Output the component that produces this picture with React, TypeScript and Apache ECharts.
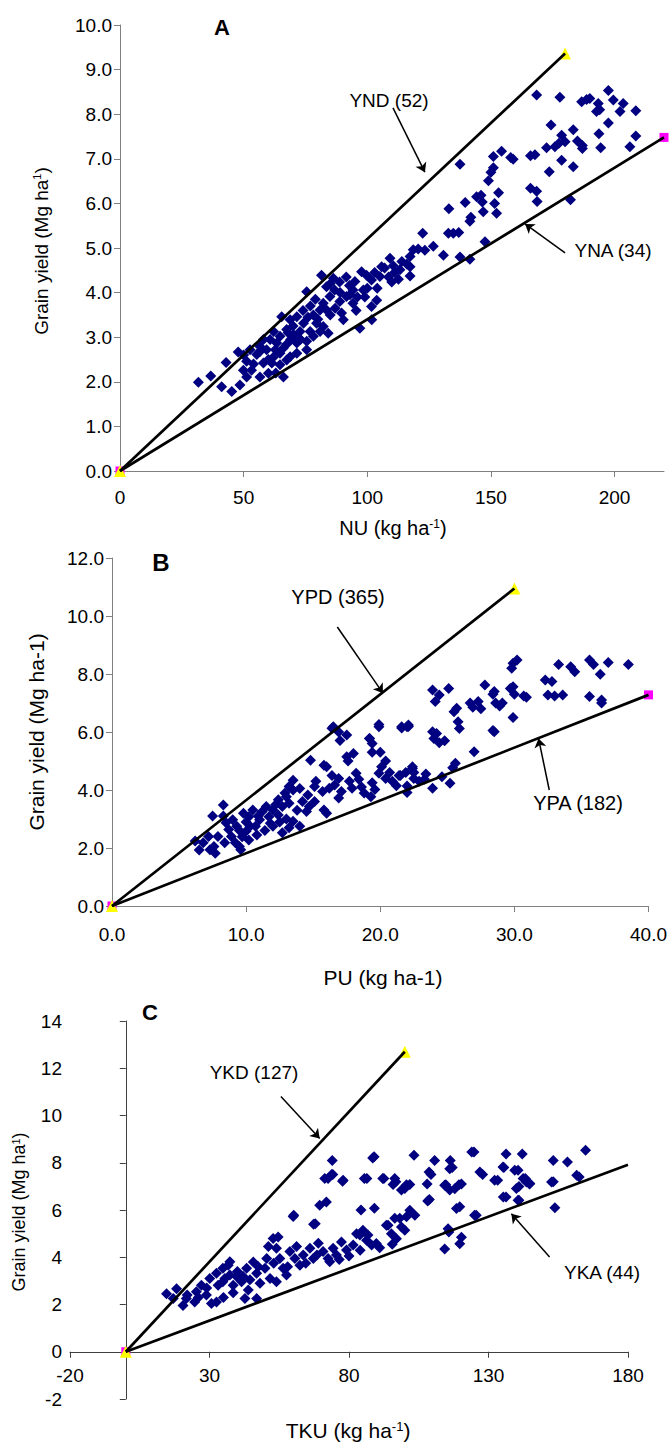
import React, { useEffect, useRef } from "react";
import * as echarts from "echarts";

const FONT = "'Liberation Sans', Arial, sans-serif";

// ---------- Panel A (NU) ----------
const pointsA: number[][] = [
  [31.7,1.99],[36.7,2.13],[42.9,2.43],[47.8,2.67],[41.1,1.89],[45.2,1.78],[48.5,1.93],
  [49.9,2.26],[51.2,2.11],[51.2,2.46],[52.6,2.72],[53.2,2.26],[55.3,2.61],[56.6,2.11],[56.6,2.79],[56.6,2.68],
  [58,2.42],[59.3,2.72],[60,2.19],[60.7,2.95],[61.4,2.42],[62.1,3.13],[62.8,2.72],[63.4,2.87],[64.7,2.64],
  [64.7,2.38],[64.7,3.02],[65.4,3.46],[66.1,2.11],[67.4,2.84],[67.4,2.49],[67.4,3.17],[68.8,2.56],[68.8,3.39],
  [70.1,3.06],[71.5,2.64],[71.5,2.87],[71.5,3.46],[72.8,3.13],[74.2,3.31],[75.5,2.91],[75.5,2.72],[75.5,4.02],
  [76.9,3.13],[78.2,3.5],[78.2,3.02],[79.5,3.31],[80.9,3.13],[80.9,3.61],[81.5,4.39],[82.2,3.24],[82.2,3.76],
  [83.5,3.61],[83.5,4.13],[84.2,3.09],[84.9,3.91],[86.3,4.32],[86.8,4.06],[88.8,4.24],[88.9,3.8],[89.6,3.54],
  [90.3,3.39],[91.5,4.35],[91.6,3.91],[92.8,4.16],[94.2,4.06],[94.2,3.76],[95.5,3.6],[97,3.2],[97.7,4.47],
  [98.4,4.06],[99.7,4.39],[101.7,4.28],[101.7,3.69],[101.8,3.39],[103.8,3.83],[105.1,4.36],[105.8,4.58],
  [108.6,4.35],[109.2,4.77],[109.9,4.24],[110.5,4.6],[112.6,4.3],[113.2,4.51],[116,4.64],[117.3,4.81],
  [117.3,4.58],[117.3,4.37],[118.6,4.96],[120.6,4.98],[122.4,5.33],[123.3,4.95],[126.7,5.04],[130.8,4.84],
  [132.8,5.33],[133,5.88],[134.8,5.33],[137,5.35],[137.5,4.8],[137.5,6.88],[139.6,6.02],[141.5,4.75],
  [141.5,5.6],[141.9,5.69],[144.2,6.15],[146,6.18],[146.5,6.03],[146.9,5.81],[147.6,5.14],[149,6.51],
  [150,6.7],[151,6.8],[151,7.05],[151.5,6.0],[152.3,5.78],[153.1,6.24],[154.3,7.17],[158,7.03],[159,6.99],
  [166,7.07],[166,6.34],[167.8,7.09],[168.5,6.27],[168.5,8.43],[168.7,6.04],[172.5,7.25],[173.6,6.71],
  [174.3,7.76],[175.9,7.27],[177.5,7.35],[177.9,8.38],[178.6,7.53],[178.6,6.97],[180,7.38],[182.2,6.08],
  [183.3,7.65],[183.3,6.82],[185,7.4],[186.7,8.28],[187,7.3],[187,7.23],[188.7,8.33],[190,8.35],[192.7,8.06],
  [193.4,8.24],[193.7,7.56],[194,8.1],[194.4,7.25],[197.5,8.53],[197.5,7.8],[199.5,8.32],[202.2,8.06],
  [203.5,8.24],[206.2,7.27],[208.6,8.08],[208.6,7.51],
  [58,2.95],[62,2.55],[66,2.75],[69,2.95],[70,3.25],[73,2.95],[76,3.45],[77,3.7],[79,3.85],[85,3.5],
  [87,3.65],[89,4.0],[93,3.95],[95,4.25],[96,3.9],[99,3.9],[100,4.1],[103,4.45],[104,4.1],[107,4.55],
  [111,4.45],[114,4.7],[85,4.2],[80,3.4],[72,3.0],[68,3.1],[74,3.6],[60,2.5],[63,2.2],[54,2.4],[50,2.6]
];
const lineYND = [[0, 0], [180, 9.36]];
const lineYNA = [[0, 0], [220, 7.48]];
const triA = [[0, 0], [180, 9.36]];
const sqA = [[0, 0], [220, 7.48]];
const arrowYND = [[110.4, 8.14], [123.3, 6.7]];
const arrowYNA = [[180, 4.89], [163.8, 5.54]];
const xTicksA = [0, 50, 100, 150, 200];

// ---------- Panel B (PU) ----------
const pointsB: number[][] = [
  [29.9,8.37],[30.2,8.48],[29.8,8.2],[33.3,8.33],[34.2,8.25],[34.5,8.08],[35.6,8.48],[35.9,8.33],[37,8.4],
  [38.5,8.33],[36.4,7.99],[32.3,7.79],[32.8,7.74],[32.5,7.28],[33,7.24],[33.6,7.28],[35.6,7.22],[36.5,7.1],
  [36.5,7.0],[23.9,7.45],[24.4,7.28],[24.1,7.05],[25.1,7.5],[27.8,7.62],[28.5,7.4],[29.7,7.5],[30,7.3],
  [30.7,7.24],[27.3,7.05],[26.9,6.85],[27.5,6.8],[28.6,7.0],[29.1,7.0],[28.9,6.9],[25.7,6.82],[25.5,6.7],
  [25.8,6.35],[25.9,6.12],[29.9,6.5],[28.4,6.05],[22.1,6.19],[21.6,6.14],[23.9,6.01],[24.2,5.95],[24,5.78],
  [24.4,5.63],[27,5.32],[25.6,4.92],[25.4,4.77],[25.2,4.23],[23.9,4.06],[24.6,4.46],[22.4,4.8],[22.5,4.6],
  [21.9,4.6],[21.5,4.5],[22,4.14],[23.4,4.55],[26.7,7.0],[28.4,7.3],[29.9,7.56],[30.9,7.2],
  [16.5,6.18],[17.5,5.9],[19.2,5.78],[19.9,6.18],[22,6.18],[24.8,5.7],[28.5,6.01],
  [19.9,6.26],[21.6,6.18],[22.1,6.24],[16.4,6.13],[16.9,6.0],[17,5.71],[19.2,5.78],[19.4,5.6],[19.4,5.3],
  [20,5.3],[20.4,5.0],[18,5.26],[17.5,5.15],[17.6,5.0],[14.8,5.03],[15.8,4.85],[16,4.8],[20.1,4.8],
  [19.9,4.58],[20.4,4.4],[20.9,4.3],[21.4,4.5],[22.4,4.74],[22.5,4.4],[22.9,4.3],[23.3,4.37],[22.0,3.91],
  [19.4,4.25],[19.6,4.02],[19.3,3.77],[18.2,4.58],[18.4,4.37],[17.7,4.3],[17.9,4.06],[16.9,4.4],[16.6,4.17],
  [17.1,3.95],[16.9,3.72],[16.2,4.06],[15.8,3.31],[16,3.2],[15.7,3.95],[15.2,4.3],[15.1,4.12],[14.6,3.83],
  [15.1,3.6],[14.7,3.43],[14.5,3.26],[13.5,4.34],[13.2,4.12],[13.5,4.0],[13.0,3.77],[13.2,3.54],[12.7,3.43],
  [12.4,3.66],[12.2,3.49],[12.0,3.31],[12.4,3.14],[13,3.0],[13.5,2.92],[14.0,2.75],[13.2,2.7],[12.7,2.53],
  [12.0,2.75],[11.7,3.08],[11.5,3.43],[11.2,3.26],[11,2.97],[10.7,2.75],[10.5,3.31],[10.2,3.08],[10,2.9],
  [10.3,2.75],[10,2.58],[9.7,2.39],[10.2,2.28],[9.5,2.05],[9.0,2.97],[9.3,2.75],[8.7,2.64],[8.5,2.87],
  [8.3,3.1],[8.3,3.48],[7.5,3.1],[8.9,2.4],[8.4,2.18],[7.9,2.4],[7.6,2.05],[7.3,1.94],[7.7,1.82],[6.8,2.18],
  [6.5,1.93],[6.2,2.24],[7.2,2.4],[9.2,2.18],[9.6,1.94],
  [9.5,2.6],[10.8,2.45],[11.4,2.6],[12.5,2.9],[13.8,3.3],[14.2,3.6],[11.8,2.85],[10.9,3.1],[9.8,3.2],
  [12.9,3.9],[14,4.05],[16.4,4.5],[18.6,4.1],[20.7,4.6],[21.2,4.15],[18.8,3.9]
];
const lineYPD = [[0, 0], [30, 10.95]];
const lineYPA = [[0, 0], [40, 7.28]];
const triB = [[0, 0], [30, 10.95]];
const sqB = [[0, 0], [40, 7.28]];
const arrowYPD = [[16.8, 9.62], [20.2, 7.34]];
const arrowYPA = [[32.6, 4.0], [31.8, 5.78]];

// ---------- Panel C (TKU) ----------
const pointsC: number[][] = [
  [74,8.1],[72.5,7.33],[73.8,7.5],[77.9,7.26],[86.4,7.33],[89,8.25],[92.5,7.33],[96.4,7.33],[103.3,8.32],
  [110.7,8.1],[109.4,7.5],[116.3,8.1],[117,7.8],[124,8.46],[124.8,8.46],[127.9,7.5],[133.3,7.26],[136.3,8.37],
  [135.5,7.8],[140.6,7.68],[142.1,8.37],[143.2,7.33],[153.2,8.1],[153.2,7.2],[158.3,8.03],[162.5,7.4],
  [164.8,8.53],[180.2,8.46],[114.7,7.07],[119.4,7.07],[108,7.1],[100.6,7.07],[96.8,7.2],[140.9,7.0],[144.7,7.1],
  [108.7,7.61],[116.1,7.75],[126.9,7.61],[135.2,7.82],[139.4,7.68],[95.8,7.08],[100,6.91],[98.8,6.85],
  [101.8,7.08],[114.3,7.05],[116.1,6.85],[117.9,6.9],[120.3,7.1],[132.2,7.26],[142.4,7.33],[143.6,7.19],
  [144.8,7.12],[140,6.91],[152.6,7.19],[161.6,7.47],[135.3,6.55],[140.6,6.41],[153.8,6.1],[108.2,6.38],
  [108.8,6.44],[103.6,5.78],[101.8,5.99],[100.6,5.71],[98.2,5.65],[96.4,5.65],[94,5.35],[95.2,4.99],
  [98.8,5.28],[100,5.14],[97,4.78],[118.5,6.06],[119.7,6.14],[125.6,5.78],[115.5,5.21],[120.3,4.85],
  [119.7,4.57],[114.3,4.35],
  [71.3,7.33],[74.2,7.5],[77.7,7.22],[85.5,7.33],[88.5,8.2],[92.1,7.33],[69.5,6.2],[71.9,6.34],[60,5.73],
  [67.3,5.4],[84.3,6.0],[89.1,6.07],[82.7,5.0],[85,5.14],[86.8,4.94],[89.8,4.58],[93.4,5.35],
  [14.6,2.46],[18.2,2.67],[17,2.25],[20.5,1.96],[21.7,2.25],[24.7,2.11],[25.3,2.54],[27.1,2.82],[28.9,2.4],
  [30.7,2.04],[32.5,2.11],[30.1,3.1],[32.5,3.32],[33.1,2.82],[34.8,2.96],[36.7,3.66],[37.3,3.25],[38.5,2.82],
  [39.7,3.18],[41.5,2.96],[42.7,2.25],[43.9,2.61],[43.3,3.53],[45.7,3.8],[46.9,3.32],[48.1,2.9],[49.9,3.53],
  [50.5,3.95],[51.7,3.1],[52.8,4.79],[54.6,4.86],[54,4.38],[51.1,4.45],[55.2,3.95],[56.4,3.53],[57.6,3.25],
  [54,2.96],[58.8,4.24],[60.6,3.95],[61.2,4.45],[62.4,3.66],[63.6,4.09],[66,4.38],[67.2,3.95],[69,4.59],
  [70.7,4.24],[72.5,3.95],[74.3,4.38],[75.5,4.09],[77.3,4.65],[79.1,4.31],[81.5,4.52],[83.9,4.94],[86.3,4.72],
  [88.1,4.52],[73.1,3.81],[46.9,2.25],[37.3,3.81],[34.8,3.53],
  [60.2,5.78],[67.9,5.42],[125,5.78],[136.3,6.55],[140.9,6.41],[115.8,5.07],
  [22,2.4],[26,2.3],[29,2.7],[35.5,3.1],[40,3.4],[44.5,3.05],[47.5,3.6],[53,3.75],[58,3.6],[64.5,3.75],
  [68.5,4.1],[76.5,3.9],[80,4.05],[84,4.3],[91,4.4],[95.5,4.55],[42,3.2],[38.5,2.5],[35,2.3]
];
const lineYKD = [[0, 0], [100, 12.7]];
const lineYKA = [[0, 0], [180, 7.92]];
const triC = [[0, 0], [100, 12.7]];
const sqC = [[0, 0]];
const arrowYKD = [[55.6, 10.8], [69.5, 9.03]];
const arrowYKA = [[151.9, 4.01], [138.2, 5.84]];
const xTicksC = [-20, 30, 80, 130, 180];

const NAVY = "#000080";

function scatter(idx: number, data: number[][]) {
  return {
    type: "scatter", xAxisIndex: idx, yAxisIndex: idx, data,
    symbol: "diamond", symbolSize: 11, itemStyle: { color: NAVY, opacity: 1 }, silent: true, z: 2,
  };
}
function marker(idx: number, data: number[][], kind: "tri" | "sq") {
  return {
    type: "scatter", xAxisIndex: idx, yAxisIndex: idx, data,
    symbol: kind === "tri" ? "triangle" : "rect",
    symbolSize: kind === "tri" ? 12 : 9,
    itemStyle: { color: kind === "tri" ? "#FFFF00" : "#FF00FF", opacity: 1 },
    silent: true, z: kind === "tri" ? 4 : 3,
  };
}
function line(idx: number, data: number[][], arrow: number[][]) {
  return {
    type: "line", xAxisIndex: idx, yAxisIndex: idx, data,
    symbol: "none", lineStyle: { color: "#000", width: 2.7 }, silent: true, z: 5,
    markLine: {
      silent: true, animation: false, symbol: ["none", "arrow"], symbolSize: 9,
      label: { show: false },
      lineStyle: { color: "#000", width: 1.5, type: "solid" },
      data: [[{ coord: arrow[0] }, { coord: arrow[1] }]],
    },
  };
}

function axisBase(color: string) {
  return {
    type: "value",
    splitLine: { show: false },
    axisLine: { show: true, onZero: true, lineStyle: { color, width: 1 } },
    axisTick: { show: true, length: 6, lineStyle: { color } },
  };
}

function text(t: string, x: number, y: number, size: number, extra: any = {}) {
  return {
    type: "text", x, y, silent: true, z: 100,
    style: {
      text: t, fill: "#000", fontSize: size, fontFamily: FONT, align: "center", verticalAlign: "middle",
      ...(extra.style || {}),
    },
    ...(extra.el || {}),
  };
}

export default function App() {
  const ref = useRef<HTMLDivElement>(null);
  useEffect(() => {
    if (!ref.current) return;
    const chart = echarts.init(ref.current, null, { renderer: "svg" });
    const supRich = (size: number) => ({
      s: { fontSize: Math.round(size * 0.6), fontFamily: FONT, fill: "#000", verticalAlign: "top", lineHeight: size },
    });
    const lbl = (margin: number, extra: any = {}) => ({ color: "#000", fontSize: 19, fontFamily: FONT, margin, ...extra });
    chart.setOption({
      animation: false,
      backgroundColor: "#fff",
      grid: [
        { left: 120, top: 25, width: 544, height: 446 },
        { left: 112, top: 558, width: 539, height: 348 },
        { left: 70, top: 1021, width: 558, height: 378 },
      ],
      xAxis: [
        {
          ...axisBase("#808080"), gridIndex: 0, min: 0, max: 220,
          axisTick: { show: true, length: 6, lineStyle: { color: "#808080" }, customValues: xTicksA },
          axisLabel: lbl(17, { customValues: xTicksA }),
        },
        {
          ...axisBase("#808080"), gridIndex: 1, min: 0, max: 40, interval: 10,
          axisLabel: lbl(19, { formatter: (v: number) => v.toFixed(1) }),
        },
        {
          ...axisBase("#404040"), gridIndex: 2, min: -20, max: 180,
          axisLine: { show: true, onZero: false, lineStyle: { color: "#404040", width: 1 } },
          offset: -47.25,
          axisTick: { show: true, length: 6, lineStyle: { color: "#404040" }, customValues: xTicksC },
          axisLabel: lbl(14, { customValues: xTicksC }),
        },
      ],
      yAxis: [
        {
          ...axisBase("#808080"), gridIndex: 0, min: 0, max: 10, interval: 1,
          axisLabel: lbl(8, { formatter: (v: number) => v.toFixed(1) }),
        },
        {
          ...axisBase("#808080"), gridIndex: 1, min: 0, max: 12, interval: 2,
          axisLabel: lbl(8, { formatter: (v: number) => v.toFixed(1) }),
        },
        {
          ...axisBase("#404040"), gridIndex: 2, min: -2, max: 14, interval: 2,
          axisLabel: lbl(8),
        },
      ],
      series: [
        scatter(0, pointsA), marker(0, sqA, "sq"), marker(0, triA, "tri"),
        line(0, lineYND, arrowYND), line(0, lineYNA, arrowYNA),
        scatter(1, pointsB), marker(1, sqB, "sq"), marker(1, triB, "tri"),
        line(1, lineYPD, arrowYPD), line(1, lineYPA, arrowYPA),
        scatter(2, pointsC), marker(2, sqC, "sq"), marker(2, triC, "tri"),
        line(2, lineYKD, arrowYKD), line(2, lineYKA, arrowYKA),
      ],
      graphic: [
        text("A", 222, 27, 22, { style: { fontWeight: "bold" } }),
        text("B", 161, 562, 24, { style: { fontWeight: "bold" } }),
        text("C", 150, 1012, 22, { style: { fontWeight: "bold" } }),
        text("YND (52)", 389, 100, 19),
        text("YNA (34)", 613, 250, 19),
        text("YPD (365)", 338, 597, 20),
        text("YPA (182)", 578, 803, 20),
        text("YKD (127)", 254, 1072, 19),
        text("YKA (44)", 602, 1272, 19),
        text("NU (kg ha{s|-1})", 393, 528, 20, { style: { rich: supRich(20) } }),
        text("PU (kg ha-1)", 383, 977, 21),
        text("TKU (kg ha{s|-1})", 348, 1430, 21, { style: { rich: supRich(21) } }),
        text("Grain yield (Mg ha{s|1})", 41, 251, 19, { style: { rich: supRich(19) }, el: { rotation: Math.PI / 2 } }),
        text("Grain yield (Mg ha-1)", 36, 732, 21, { el: { rotation: Math.PI / 2 } }),
        text("Grain yield (Mg ha{s|1})", 19, 1212, 18, { style: { rich: supRich(18) }, el: { rotation: Math.PI / 2 } }),
      ],
    });
    return () => chart.dispose();
  }, []);
  return (
    <div
      ref={ref}
      style={{ position: "absolute", left: 0, top: 0, width: 670, height: 1442, background: "#fff" }}
    />
  );
}
